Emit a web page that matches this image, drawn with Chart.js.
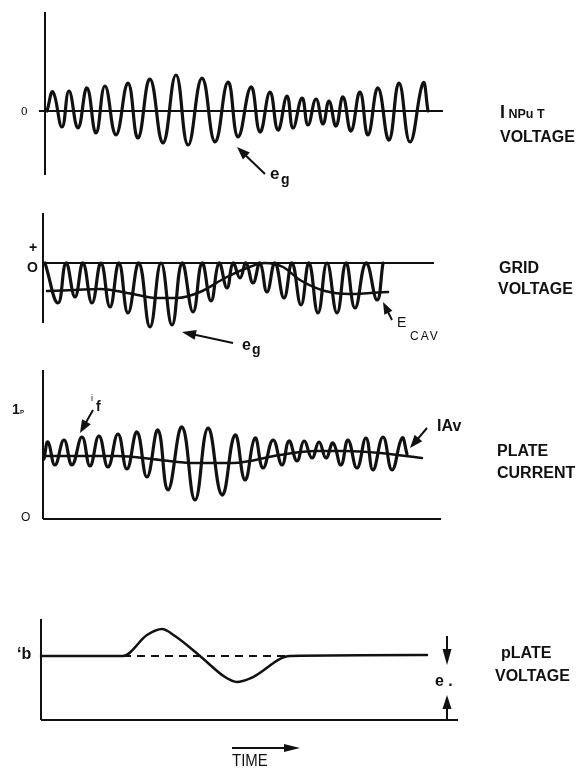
<!DOCTYPE html>
<html><head><meta charset="utf-8">
<script src="https://cdn.jsdelivr.net/npm/chart.js@4.4.1/dist/chart.umd.min.js"></script>
<style>
html,body{margin:0;padding:0;background:#fff;}
#page{position:relative;width:578px;height:770px;overflow:hidden;background:#fff;}
canvas{position:absolute;left:0;}
.t{position:absolute;font-family:"Liberation Sans",Arial,sans-serif;font-weight:bold;color:#111;line-height:1;white-space:nowrap;}
.r{font-weight:normal;}
</style></head><body><div id="page">
<canvas id="cA" width="578" height="190" style="top:0px"></canvas>
<canvas id="cB" width="578" height="160" style="top:190px"></canvas>
<canvas id="cC" width="578" height="180" style="top:350px"></canvas>
<canvas id="cD" width="578" height="170" style="top:600px"></canvas>

<div class="t" style="left:21px;top:104px;font-family:'Liberation Serif',serif;font-weight:normal;font-size:13px;">0</div>
<div class="t" style="left:500px;top:103px;font-size:18px;">I<span style="font-size:12.5px;"> NPu T</span></div>
<div class="t" style="left:500px;top:129px;font-size:16px;">VOLTAGE</div>
<div class="t" style="left:270px;top:165px;font-size:17px;">e</div>
<div class="t" style="left:281px;top:172px;font-size:14px;">g</div>

<div class="t" style="left:29px;top:240px;font-size:14px;">+</div>
<div class="t" style="left:27px;top:260px;font-size:14px;">O</div>
<div class="t" style="left:499px;top:260px;font-size:16px;">GRID</div>
<div class="t" style="left:498px;top:281px;font-size:16px;">VOLTAGE</div>
<div class="t" style="left:242px;top:337px;font-size:16px;">e</div>
<div class="t" style="left:252px;top:342px;font-size:14px;">g</div>
<div class="t r" style="left:397px;top:315px;font-size:14px;">E</div>
<div class="t r" style="left:410px;top:330px;font-size:12px;letter-spacing:2px;">CAV</div>

<div class="t" style="left:12px;top:402px;font-size:14px;">1</div>
<div class="t" style="left:20px;top:409px;font-size:6px;">P</div>
<div class="t r" style="left:21px;top:511px;font-size:12px;">O</div>
<div class="t r" style="left:91px;top:394px;font-size:9px;">i</div>
<div class="t" style="left:96px;top:399px;font-size:14px;">f</div>
<div class="t" style="left:437px;top:418px;font-size:16px;">IAv</div>
<div class="t" style="left:497px;top:443px;font-size:16px;">PLATE</div>
<div class="t" style="left:497px;top:465px;font-size:16px;">CURRENT</div>

<div class="t" style="left:17px;top:646px;font-size:16px;">‘b</div>
<div class="t" style="left:435px;top:673px;font-size:16px;">e .</div>
<div class="t" style="left:501px;top:645px;font-size:16px;">pLATE</div>
<div class="t" style="left:495px;top:668px;font-size:16px;">VOLTAGE</div>
<div class="t r" style="left:232px;top:752px;font-size:17px;transform:scaleX(0.88);transform-origin:left top;">TIME</div>
</div>
<script>
// ---- Input voltage e_g (time in arbitrary units, value in arbitrary units) ----
const inputTime  = [2,8,17,24,33,42,51,60,71,83,93,105,118,131,143,157,170,183,193,206,215,225,233,242,248,257,263,271,278,284,291,298,306,315,323,333,344,354,365,378,383];
const inputVolts = [0,19,-16,20,-17,23,-22,25,-24,28,-27,32,-32,36,-34,33,-31,29,-26,24,-21,19,-19,15,-17,13,-14,12,-13,10,-15,14,-20,19,-24,23,-29,28,-31,28,0];

// ---- Grid voltage (e_g plus bias) ----
const gridTime  = [0,13,21,30,38,47,56,65,74,83,94,105,116,127,137,148,157,166,174,182,188,195,201,208,215,222,230,239,247,256,264,273,282,292,301,310,321,332,338];
const gridVolts = [0,-40,0,-34,0,-40,0,-44,0,-50,0,-64,0,-62,0,-49,0,-38,0,-25,0,-15,0,-20,0,-29,0,-35,0,-42,0,-50,0,-50,0,-45,0,-37,0];
// ---- E_C AV (average grid bias) ----
const ecavTime  = [2,30,55,88,112,132,155,180,202,220,238,255,280,305,325,343];
const ecavVolts = [-28,-27,-26,-31,-35,-35,-29,-15,-5,0,-4,-17,-28,-31,-30,-29];

// ---- Plate current i_f ----
const plateTime    = [-1,3,10,19,27,37,45,54,63,73,82,92,102,113,123,137,150,163,177,190,200,210,218,228,237,244,252,259,267,274,281,288,296,303,312,321,328,338,347,357,362];
const plateCurrent = [60,77,54,79,54,82,53,83,52,85,50,87,42,89,29,92,19,91,24,84,39,81,51,79,54,78,58,78,61,77,61,76,54,79,51,81,49,82,49,81,65];
// ---- I AV (average plate current) ----
const iavTime   = [0,40,72,115,148,188,235,270,300,335,377];
const iavValues = [63,63,63,59,56,56,64,68,68,66,61];

// ---- Plate voltage ----
const pvTime   = [-4,78,102,117,130,155,180,192,206,245,382];
const pvValues = [64,64,85,91,84,64,43,38,42,64,65];
// ---- quiescent e_b (dashed) ----
const ebTime   = [78,245];
const ebValues = [64,64];

const pts = (xs, ys) => xs.map((x, i) => ({x, y: ys[i]}));
const INK = '#111';

function drawArrow(ctx, x, y, a) {
  const x1 = x.getPixelForValue(a.from[0]), y1 = y.getPixelForValue(a.from[1]);
  const x2 = x.getPixelForValue(a.to[0]),   y2 = y.getPixelForValue(a.to[1]);
  const ang = Math.atan2(y2 - y1, x2 - x1);
  const L = a.len || 12, W = a.w || 4.5;
  ctx.save();
  ctx.strokeStyle = INK; ctx.fillStyle = INK; ctx.lineWidth = a.lw || 2;
  ctx.beginPath(); ctx.moveTo(x1, y1);
  ctx.lineTo(x2 - Math.cos(ang) * L * 0.6, y2 - Math.sin(ang) * L * 0.6); ctx.stroke();
  ctx.beginPath();
  ctx.moveTo(x2, y2);
  ctx.lineTo(x2 - Math.cos(ang) * L - Math.sin(ang) * W, y2 - Math.sin(ang) * L + Math.cos(ang) * W);
  ctx.lineTo(x2 - Math.cos(ang) * L + Math.sin(ang) * W, y2 - Math.sin(ang) * L - Math.cos(ang) * W);
  ctx.closePath(); ctx.fill();
  ctx.restore();
}

const frame = {
  id: 'frame',
  beforeDatasetsDraw(chart, args, opts) {
    const {ctx, chartArea: a, scales: {x, y}} = chart;
    ctx.save();
    ctx.strokeStyle = INK; ctx.lineWidth = 2;
    ctx.beginPath(); ctx.moveTo(a.left, a.top); ctx.lineTo(a.left, a.bottom); ctx.stroke();
    const y0 = y.getPixelForValue(0);
    const xs = opts.baseFrom !== undefined ? x.getPixelForValue(opts.baseFrom) : a.left;
    ctx.beginPath(); ctx.moveTo(xs, y0); ctx.lineTo(a.right, y0); ctx.stroke();
    ctx.restore();
  },
  afterDatasetsDraw(chart, args, opts) {
    const {ctx, scales: {x, y}} = chart;
    (opts.arrows || []).forEach(ar => drawArrow(ctx, x, y, ar));
  }
};

function wave(data, width, extra) {
  return Object.assign({data, borderColor: INK, borderWidth: width, pointRadius: 0, fill: false,
    tension: 0.45, borderJoinStyle: 'round', borderCapStyle: 'round', clip: false}, extra || {});
}

function makeChart(id, datasets, xr, yr, pad, frameOpts) {
  new Chart(document.getElementById(id), {
    type: 'line',
    data: {datasets},
    options: {
      responsive: false, animation: false, events: [],
      layout: {padding: pad},
      scales: {
        x: {type: 'linear', display: false, min: xr[0], max: xr[1]},
        y: {type: 'linear', display: false, min: yr[0], max: yr[1]}
      },
      plugins: {legend: {display: false}, tooltip: {enabled: false}, frame: frameOpts}
    },
    plugins: [frame]
  });
}

// Panel A: input voltage
makeChart('cA', [wave(pts(inputTime, inputVolts), 3.2)], [0, 398], [-64, 99],
  {left: 45, right: 135, top: 12, bottom: 15},
  {baseFrom: -6, arrows: [{from: [220, -63], to: [192, -36], len: 13, w: 5}]});

// Panel B: grid voltage
makeChart('cB', [wave(pts(gridTime, gridVolts), 3.2), wave(pts(ecavTime, ecavVolts), 2.5, {cubicInterpolationMode: 'monotone'})], [-2, 389], [-60, 50],
  {left: 43, right: 144, top: 23, bottom: 27},
  {arrows: [{from: [188, -80], to: [137, -69], len: 14, w: 5}, {from: [347, -57], to: [338, -39], len: 12, w: 4.5}]});

// Panel C: plate current
makeChart('cC', [wave(pts(plateTime, plateCurrent), 3.2), wave(pts(iavTime, iavValues), 2.5, {cubicInterpolationMode: 'monotone'})], [-2, 396], [0, 149],
  {left: 43, right: 137, top: 20, bottom: 11},
  {arrows: [{from: [48, 109], to: [35, 86], len: 13, w: 5}, {from: [382, 91], to: [365, 71], len: 13, w: 5}]});

// Panel D: plate voltage
makeChart('cD', [wave(pts(pvTime, pvValues), 2.5, {cubicInterpolationMode: 'monotone'}),
                 wave(pts(ebTime, ebValues), 1.8, {borderDash: [8, 6], tension: 0, borderCapStyle: 'butt'})],
  [-4, 413], [0, 101],
  {left: 41, right: 120, top: 19, bottom: 50},
  {arrows: [{from: [402, 84], to: [402, 55], len: 16, w: 4.5},
            {from: [402, 0], to: [402, 25], len: 14, w: 4.5},
            {from: [187, -28], to: [255, -28], len: 16, w: 4}]});
</script>
</body></html>
